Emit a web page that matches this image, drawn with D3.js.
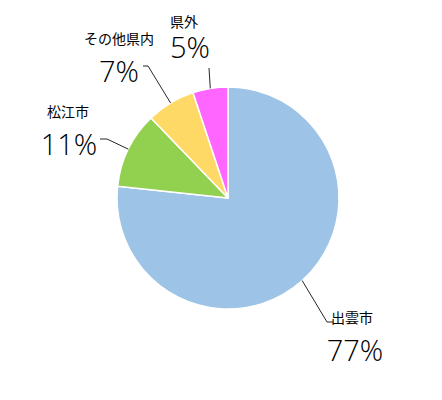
<!DOCTYPE html>
<html>
<head>
<meta charset="utf-8">
<script src="https://cdn.jsdelivr.net/npm/d3@7/dist/d3.min.js"></script>
<style>
  html, body { margin: 0; padding: 0; background: #fff; }
  svg { display: block; }
</style>
</head>
<body>
<svg id="chart" width="442" height="400"></svg>
<script>
// ---- data ----
const categories = ["出雲市", "松江市", "その他県内", "県外"];
const values = [76.7, 11.1, 7.1, 5.1];
const percentLabels = ["77%", "11%", "7%", "5%"];
const colors = ["#9DC3E6", "#92D050", "#FFD966", "#FF66FF"];

// ---- layout (label placement, relative to pie centre) ----
const layout = {
  cx: 228, cy: 198, r: 111,
  labels: [
    { elbow: [99, 124], end: [105, 124], name: [124, 125], pct: [127, 163] },
    { elbow: [-121, -59], end: [-128, -59], name: [-160, -81], pct: [-159, -43] },
    { elbow: [-80, -132], end: [-85, -132], name: [-109, -154], pct: [-109, -116] },
    { elbow: [-19, -130], end: [-19, -130], name: [-44, -171], pct: [-38, -140] }
  ]
};

const svg = d3.select("#chart");
const g = svg.append("g").attr("transform", `translate(${layout.cx},${layout.cy})`);

const data = categories.map((c, i) => ({ name: c, value: values[i], pct: percentLabels[i], color: colors[i], lab: layout.labels[i] }));

const pie = d3.pie().value(d => d.value).sort(null).startAngle(0).endAngle(2 * Math.PI);
const arc = d3.arc().innerRadius(0).outerRadius(layout.r);
const arcs = pie(data);

g.selectAll("path.slice")
  .data(arcs)
  .join("path")
  .attr("class", "slice")
  .attr("d", arc)
  .attr("fill", d => d.data.color)
  .attr("stroke", "#fff")
  .attr("stroke-width", 1.5)
  .attr("stroke-linejoin", "round");

// leader lines
const line = d3.line();
g.selectAll("path.leader")
  .data(arcs)
  .join("path")
  .attr("class", "leader")
  .attr("d", d => {
    const a = (d.startAngle + d.endAngle) / 2;
    const p0 = [layout.r * Math.sin(a), -layout.r * Math.cos(a)];
    return line([p0, d.data.lab.elbow, d.data.lab.end]);
  })
  .attr("fill", "none")
  .attr("stroke", "#262626")
  .attr("stroke-width", 1);

// category names
g.selectAll("text.name")
  .data(arcs)
  .join("text")
  .attr("class", "name")
  .attr("x", d => d.data.lab.name[0])
  .attr("y", d => d.data.lab.name[1])
  .attr("text-anchor", "middle")
  .attr("font-family", "'Noto Sans CJK JP', sans-serif")
  .attr("font-size", 14)
  .attr("fill", "#000")
  .text(d => d.data.name);

// percentages
g.selectAll("text.pct")
  .data(arcs)
  .join("text")
  .attr("class", "pct")
  .attr("x", d => d.data.lab.pct[0])
  .attr("y", d => d.data.lab.pct[1])
  .attr("text-anchor", "middle")
  .attr("font-family", "'Open Sans', 'Noto Sans', sans-serif")
  .attr("font-weight", 350)
  .attr("font-size", 29)
  .attr("fill", "#000")
  .text(d => d.data.pct);
</script>
</body>
</html>
